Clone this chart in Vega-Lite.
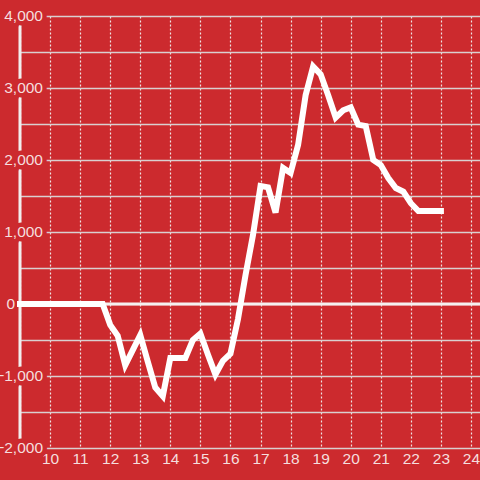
{
  "$schema": "https://vega.github.io/schema/vega-lite/v6.json",
  "width": 460,
  "height": 432,
  "autosize": {"type": "none"},
  "padding": {"left": 20, "top": 16, "right": 0, "bottom": 32},
  "background": "#cc2a2e",
  "config": {
    "view": {"stroke": null},
    "axisX": {
      "tickCount": 15,
      "labelExpr": "datum.value < 9.5 ? '' : datum.label",
      "title": null, "domain": false, "ticks": false,
      "labelFont": "Liberation Sans", "labelFontSize": 15.5, "labelColor": "#f5dede",
      "labelPadding": 3, "labelFlush": false, "labelOverlap": false,
      "grid": true, "gridColor": "#eee4e4", "gridDash": [2, 2], "gridWidth": 1.2
    },
    "axisY": {
      "title": null, "domain": false, "ticks": false, "labels": false,
      "grid": true, "gridColor": "#d9d0d0", "gridWidth": 1.4
    }
  },
  "datasets": {
    "series": [
      {"t": 9.0, "v": 0}, {"t": 9.25, "v": 0}, {"t": 9.5, "v": 0}, {"t": 9.75, "v": 0},
      {"t": 10.0, "v": 0}, {"t": 10.25, "v": 0}, {"t": 10.5, "v": 0}, {"t": 10.75, "v": 0},
      {"t": 11.0, "v": 0}, {"t": 11.25, "v": 0}, {"t": 11.5, "v": 0}, {"t": 11.75, "v": 0},
      {"t": 12.0, "v": -290}, {"t": 12.25, "v": -440}, {"t": 12.5, "v": -850}, {"t": 12.75, "v": -640},
      {"t": 13.0, "v": -430}, {"t": 13.25, "v": -800}, {"t": 13.5, "v": -1160}, {"t": 13.75, "v": -1280},
      {"t": 14.0, "v": -750}, {"t": 14.25, "v": -750}, {"t": 14.5, "v": -750}, {"t": 14.75, "v": -500},
      {"t": 15.0, "v": -410}, {"t": 15.25, "v": -700}, {"t": 15.5, "v": -980}, {"t": 15.75, "v": -790},
      {"t": 16.0, "v": -690}, {"t": 16.25, "v": -210}, {"t": 16.5, "v": 400}, {"t": 16.75, "v": 960},
      {"t": 17.0, "v": 1640}, {"t": 17.25, "v": 1620}, {"t": 17.5, "v": 1270}, {"t": 17.75, "v": 1890},
      {"t": 18.0, "v": 1820}, {"t": 18.25, "v": 2210}, {"t": 18.5, "v": 2900}, {"t": 18.75, "v": 3300},
      {"t": 19.0, "v": 3190}, {"t": 19.25, "v": 2900}, {"t": 19.5, "v": 2590}, {"t": 19.75, "v": 2690},
      {"t": 20.0, "v": 2730}, {"t": 20.25, "v": 2490}, {"t": 20.5, "v": 2470}, {"t": 20.75, "v": 2000},
      {"t": 21.0, "v": 1930}, {"t": 21.25, "v": 1750}, {"t": 21.5, "v": 1610}, {"t": 21.75, "v": 1560},
      {"t": 22.0, "v": 1400}, {"t": 22.25, "v": 1290}, {"t": 22.5, "v": 1290}, {"t": 22.75, "v": 1290},
      {"t": 23.0, "v": 1290}
    ],
    "ylabels": [
      {"v": -2000}, {"v": -1000}, {"v": 0}, {"v": 1000}, {"v": 2000}, {"v": 3000}, {"v": 4000}
    ],
    "one": [{"k": 1}]
  },
  "encoding": {
    "x": {"type": "quantitative", "scale": {"domain": [9, 24.3], "nice": false, "zero": false}},
    "y": {"type": "quantitative", "scale": {"domain": [-2000, 4000], "nice": false}}
  },
  "layer": [
    {
      "data": {"name": "one"},
      "mark": {"type": "rule", "color": "#f2eeee", "strokeWidth": 3},
      "encoding": {
        "x": {"datum": 9, "type": "quantitative"},
        "y": {"datum": -2000, "type": "quantitative"},
        "y2": {"datum": 4000}
      }
    },
    {
      "data": {"name": "one"},
      "mark": {"type": "rule", "color": "#f5f0f0", "strokeWidth": 3},
      "encoding": {
        "y": {"datum": 0, "type": "quantitative"},
        "x": {"datum": 9, "type": "quantitative"},
        "x2": {"datum": 24.3}
      }
    },
    {
      "data": {"name": "ylabels"},
      "transform": [{"filter": "datum.v != 0"}],
      "mark": {"type": "text", "align": "right", "baseline": "middle", "dx": 23, "font": "Liberation Sans", "fontSize": 15.5, "fill": "#cc2a2e", "stroke": "#cc2a2e", "strokeWidth": 9},
      "encoding": {
        "x": {"datum": 9, "type": "quantitative"},
        "y": {"field": "v", "type": "quantitative"},
        "text": {"field": "v", "type": "quantitative", "format": ","}
      }
    },
    {
      "data": {"name": "ylabels"},
      "transform": [{"filter": "datum.v != 0"}],
      "mark": {"type": "text", "align": "right", "baseline": "middle", "dx": 23, "font": "Liberation Sans", "fontSize": 15.5, "fill": "#f5dede"},
      "encoding": {
        "x": {"datum": 9, "type": "quantitative"},
        "y": {"field": "v", "type": "quantitative"},
        "text": {"field": "v", "type": "quantitative", "format": ","}
      }
    },
    {
      "data": {"name": "ylabels"},
      "transform": [{"filter": "datum.v == 0"}],
      "mark": {"type": "text", "align": "right", "baseline": "middle", "dx": -5, "font": "Liberation Sans", "fontSize": 15.5, "fill": "#f5dede"},
      "encoding": {
        "x": {"datum": 9, "type": "quantitative"},
        "y": {"field": "v", "type": "quantitative"},
        "text": {"field": "v", "type": "quantitative", "format": ","}
      }
    },
    {
      "data": {"name": "series"},
      "mark": {"type": "line", "color": "#ffffff", "strokeWidth": 6, "strokeJoin": "miter", "strokeCap": "square"},
      "encoding": {
        "x": {"field": "t", "type": "quantitative"},
        "y": {"field": "v", "type": "quantitative"}
      }
    }
  ]
}
